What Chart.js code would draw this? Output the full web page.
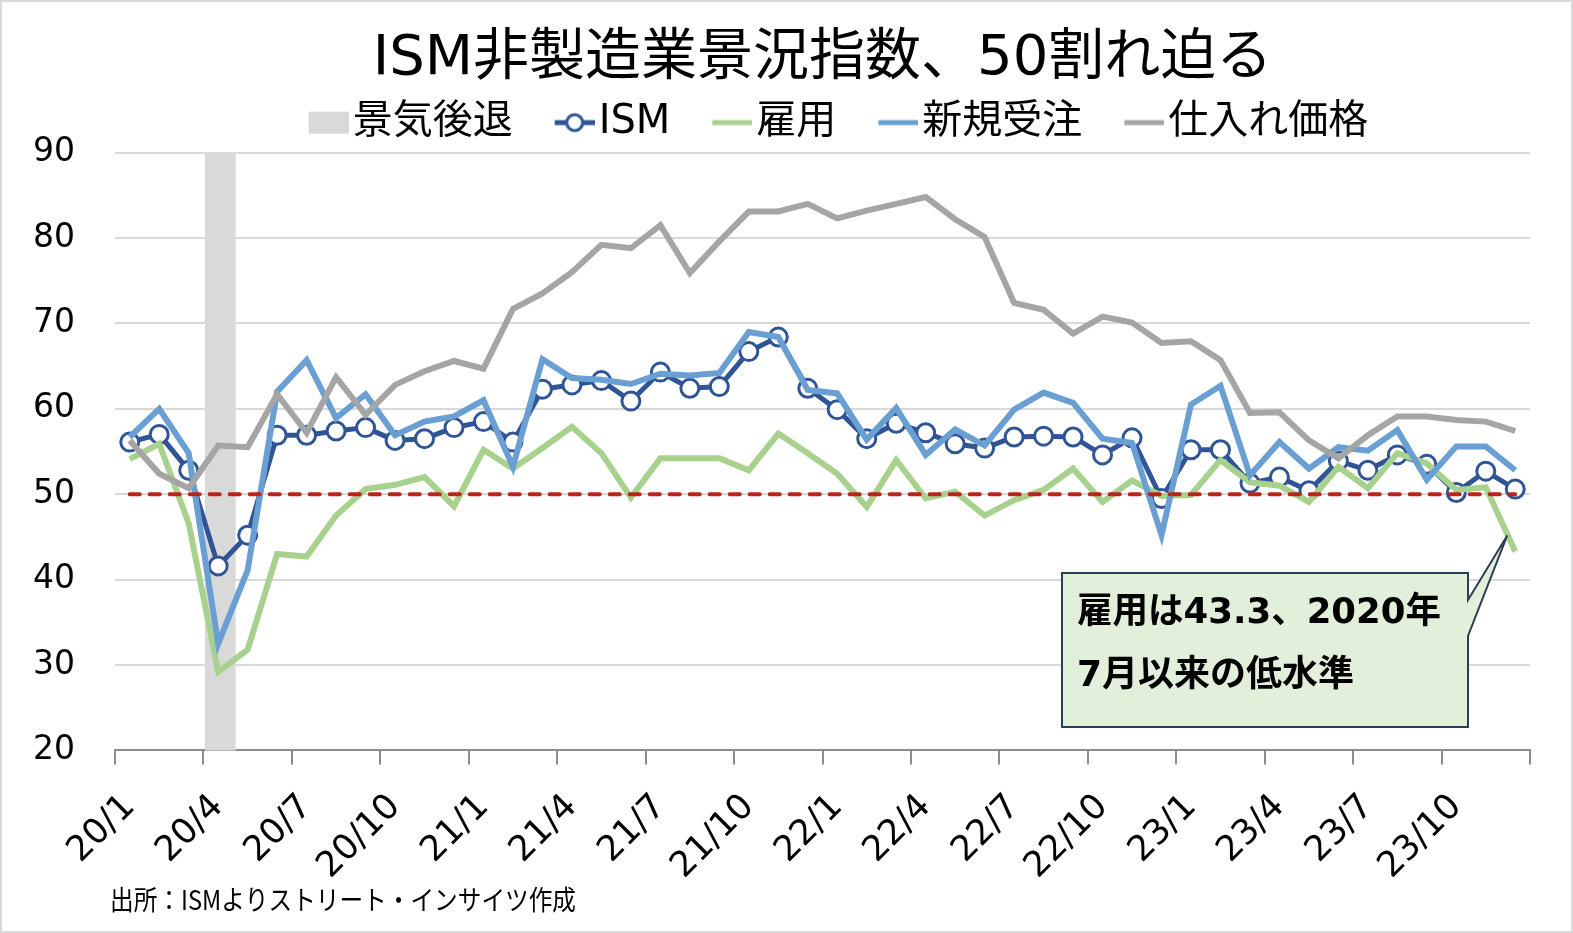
<!DOCTYPE html>
<html><head><meta charset="utf-8">
<script src="https://cdn.jsdelivr.net/npm/chart.js@4.4.1/dist/chart.umd.min.js"></script>
<style>html,body{margin:0;padding:0;background:#fff;}#wrap{position:absolute;left:0;top:0;width:1573px;height:933px;}</style>
</head><body><div id="wrap"><canvas id="c" width="1573" height="933"></canvas></div>
<script>
// ---- data ----
const months = ['20/1','20/2','20/3','20/4','20/5','20/6','20/7','20/8','20/9','20/10','20/11','20/12',
  '21/1','21/2','21/3','21/4','21/5','21/6','21/7','21/8','21/9','21/10','21/11','21/12',
  '22/1','22/2','22/3','22/4','22/5','22/6','22/7','22/8','22/9','22/10','22/11','22/12',
  '23/1','23/2','23/3','23/4','23/5','23/6','23/7','23/8','23/9','23/10','23/11','23/12'];
const ism = [56.1,57.0,52.8,41.6,45.2,56.9,56.9,57.4,57.8,56.3,56.5,57.8,
  58.5,56.1,62.3,62.8,63.3,60.9,64.3,62.4,62.6,66.7,68.4,62.4,
  59.9,56.5,58.3,57.2,55.9,55.4,56.7,56.8,56.7,54.6,56.6,49.5,
  55.2,55.2,51.3,52.0,50.4,53.9,52.8,54.6,53.5,50.2,52.7,50.6];
const employment = [54.1,55.9,46.6,29.2,31.8,43.0,42.7,47.5,50.6,51.1,52.0,48.6,
  55.2,53.0,55.4,57.9,54.8,49.6,54.2,54.2,54.2,52.8,57.1,54.8,
  52.4,48.5,54.0,49.5,50.3,47.5,49.3,50.5,53.0,49.1,51.6,49.8,
  49.9,54.0,51.4,51.0,49.1,53.2,50.7,54.8,53.6,50.5,50.8,43.3];
const newOrders = [56.7,60.0,54.8,32.5,41.1,62.0,65.7,58.9,61.7,56.9,58.5,59.1,
  61.0,53.2,65.8,63.6,63.4,62.9,64.1,63.9,64.2,69.0,68.4,62.2,
  61.8,56.4,60.1,54.6,57.6,55.7,59.9,61.9,60.7,56.5,56.0,45.2,
  60.5,62.7,52.2,56.1,53.0,55.5,55.1,57.5,51.7,55.6,55.6,52.8];
const prices = [56.3,52.4,50.7,55.7,55.5,61.7,57.2,63.7,59.3,62.8,64.4,65.6,
  64.7,71.7,73.5,76.0,79.2,78.8,81.5,75.9,79.6,83.1,83.1,84.0,
  82.3,83.2,84.0,84.8,82.2,80.1,72.4,71.6,68.8,70.8,70.1,67.7,
  67.9,65.7,59.5,59.6,56.3,54.2,56.9,59.1,59.1,58.7,58.5,57.4];
const recession = [null,null,null,90,null,null,null,null,null,null,null,null,
  null,null,null,null,null,null,null,null,null,null,null,null,
  null,null,null,null,null,null,null,null,null,null,null,null,
  null,null,null,null,null,null,null,null,null,null,null,null];
const boomLine = 50;
const yTicks = [20,30,40,50,60,70,80,90];
const seriesNames = ['景気後退','ISM','雇用','新規受注','仕入れ価格'];
const titleText = 'ISM非製造業景況指数、50割れ迫る';
const noteLines = ['雇用は43.3、2020年','7月以来の低水準'];
const sourceText = '出所：ISMよりストリート・インサイツ作成';

// ---- styles ----
const FONT = "'DejaVu Sans', 'Noto Sans CJK JP', sans-serif";
Chart.defaults.font.family = FONT;
Chart.defaults.color = '#000';
const C = {ism:'#2F5597', emp:'#A9D18E', ord:'#6A9FD4', prc:'#A5A5A5', rec:'#D9D9D9', red:'#B8261A'};

function icon(kind, color, pad) {
  const c = document.createElement('canvas');
  c.width = 40 + pad; c.height = 26;
  const g = c.getContext('2d');
  const x0 = pad, x1 = pad + 40;
  if (kind === 'box') { g.fillStyle = color; g.fillRect(x0, 2, 40, 22); }
  else {
    g.strokeStyle = color; g.lineWidth = 5;
    g.beginPath(); g.moveTo(x0, 13); g.lineTo(x1, 13); g.stroke();
    if (kind === 'marker') {
      g.fillStyle = '#fff'; g.lineWidth = 3;
      g.beginPath(); g.arc((x0 + x1) / 2, 13, 8, 0, Math.PI * 2); g.fill(); g.stroke();
    }
  }
  return c;
}
const PSW = 56;
const ICON_PAD = PSW + 32 - 40;

const frame = {
  id: 'frame',
  beforeDraw(chart) {
    const {ctx, width, height} = chart;
    ctx.save();
    ctx.fillStyle = '#fff'; ctx.fillRect(0, 0, width, height);
    ctx.restore();
  },
  afterDraw(chart) {
    const {ctx, width, height} = chart;
    ctx.save();
    ctx.strokeStyle = '#D9D9D9'; ctx.lineWidth = 2;
    ctx.strokeRect(1, 1, width - 2, height - 2);
    ctx.restore();
  }
};

const callout = {
  id: 'callout',
  afterDatasetsDraw(chart) {
    const {ctx, scales: {x, y}} = chart;
    const last = employment.length - 1;
    const tipX = x.getPixelForValue(last) - 8;
    const tipY = y.getPixelForValue(employment[last]) - 16;
    const L = 1062, T = 573, R = 1468, B = 727;
    ctx.save();
    ctx.beginPath();
    ctx.moveTo(L, T); ctx.lineTo(R, T); ctx.lineTo(R, 600); ctx.lineTo(tipX, tipY);
    ctx.lineTo(R, 636); ctx.lineTo(R, B); ctx.lineTo(L, B); ctx.closePath();
    ctx.fillStyle = '#E2EFDA'; ctx.fill();
    ctx.lineWidth = 2; ctx.strokeStyle = '#2C3E56'; ctx.lineJoin = 'miter'; ctx.stroke();
    ctx.fillStyle = '#000'; ctx.textAlign = 'left'; ctx.textBaseline = 'middle';
    ctx.font = 'bold 36px ' + FONT;
    ctx.fillText(noteLines[0], 1077, 614, 364);
    ctx.fillText(noteLines[1], 1077, 677);
    ctx.font = "27px 'Noto Sans CJK JP', sans-serif";
    ctx.fillText(sourceText, 110, 900, 466);
    ctx.restore();
  }
};

new Chart(document.getElementById('c'), {
  type: 'line',
  data: {
    labels: months,
    datasets: [
      {label: '50', data: months.map(() => boomLine), borderColor: C.red, borderWidth: 4,
        borderDash: [10, 10], borderCapStyle: 'round', pointRadius: 0, tension: 0},
      {label: seriesNames[4], data: prices, borderColor: C.prc, borderWidth: 6, pointRadius: 0, tension: 0},
      {label: seriesNames[3], data: newOrders, borderColor: C.ord, borderWidth: 6, pointRadius: 0, tension: 0},
      {label: seriesNames[2], data: employment, borderColor: C.emp, borderWidth: 6, pointRadius: 0, tension: 0},
      {label: seriesNames[1], data: ism, borderColor: C.ism, borderWidth: 5, pointRadius: 9, pointHoverRadius: 9,
        pointBorderWidth: 3, pointBackgroundColor: '#fff', pointBorderColor: C.ism, tension: 0},
      {type: 'bar', label: seriesNames[0], data: recession.map((v, i) => ({x: i, y: v})), xAxisID: 'xBar',
        backgroundColor: C.rec, borderWidth: 0, barThickness: 30}
    ]
  },
  options: {
    responsive: false, devicePixelRatio: 1, animation: false, events: [],
    layout: {padding: {left: 0, right: 43, top: 0, bottom: 0}},
    plugins: {
      tooltip: {enabled: false},
      title: {display: true, fullSize: false, text: titleText, color: '#000',
        font: {size: 56, weight: 'normal', lineHeight: 1.1}, padding: {top: 29, bottom: 2}},
      legend: {
        display: true, position: 'top', fullSize: false,
        labels: {
          usePointStyle: true, pointStyleWidth: PSW, padding: 10, font: {size: 40}, color: '#000',
          generateLabels: () => [
            {text: seriesNames[0], pointStyle: icon('box', C.rec, ICON_PAD), fillStyle: C.rec, strokeStyle: C.rec, lineWidth: 0, hidden: false, datasetIndex: 5, fontColor: '#000'},
            {text: seriesNames[1], pointStyle: icon('marker', C.ism, ICON_PAD), fillStyle: C.ism, strokeStyle: C.ism, lineWidth: 0, hidden: false, datasetIndex: 4, fontColor: '#000'},
            {text: seriesNames[2], pointStyle: icon('line', C.emp, ICON_PAD), fillStyle: C.emp, strokeStyle: C.emp, lineWidth: 0, hidden: false, datasetIndex: 3, fontColor: '#000'},
            {text: seriesNames[3], pointStyle: icon('line', C.ord, ICON_PAD), fillStyle: C.ord, strokeStyle: C.ord, lineWidth: 0, hidden: false, datasetIndex: 2, fontColor: '#000'},
            {text: seriesNames[4], pointStyle: icon('line', C.prc, ICON_PAD), fillStyle: C.prc, strokeStyle: C.prc, lineWidth: 0, hidden: false, datasetIndex: 1, fontColor: '#000'}
          ]
        }
      }
    },
    scales: {
      x: {
        type: 'category', offset: true,
        grid: {offset: true, drawOnChartArea: false, drawTicks: true, tickLength: 14, lineWidth: 2,
          color: c => (c.index === undefined || c.index % 3 === 0) ? '#8C8C8C' : 'rgba(0,0,0,0)'},
        border: {display: true, color: '#8C8C8C', width: 2},
        ticks: {autoSkip: false, maxRotation: 45, minRotation: 45, padding: 22, font: {size: 35}, color: '#000',
          callback: (v, i) => (i % 3 === 0 ? months[i] : '')},
        afterFit(s) { s.height = 182.6; }
      },
      xBar: {type: 'linear', min: 0, max: months.length - 1, offset: false, display: false, grid: {display: false}},
      y: {
        min: 20, max: 90,
        afterBuildTicks(s) { s.ticks = yTicks.map(v => ({value: v})); },
        grid: {color: '#D9D9D9', lineWidth: 2, drawTicks: false},
        border: {display: false},
        ticks: {padding: 40, font: {size: 33}, color: '#000'},
        afterFit(s) { s.width = 115; }
      }
    }
  },
  plugins: [frame, callout]
});
</script></body></html>
